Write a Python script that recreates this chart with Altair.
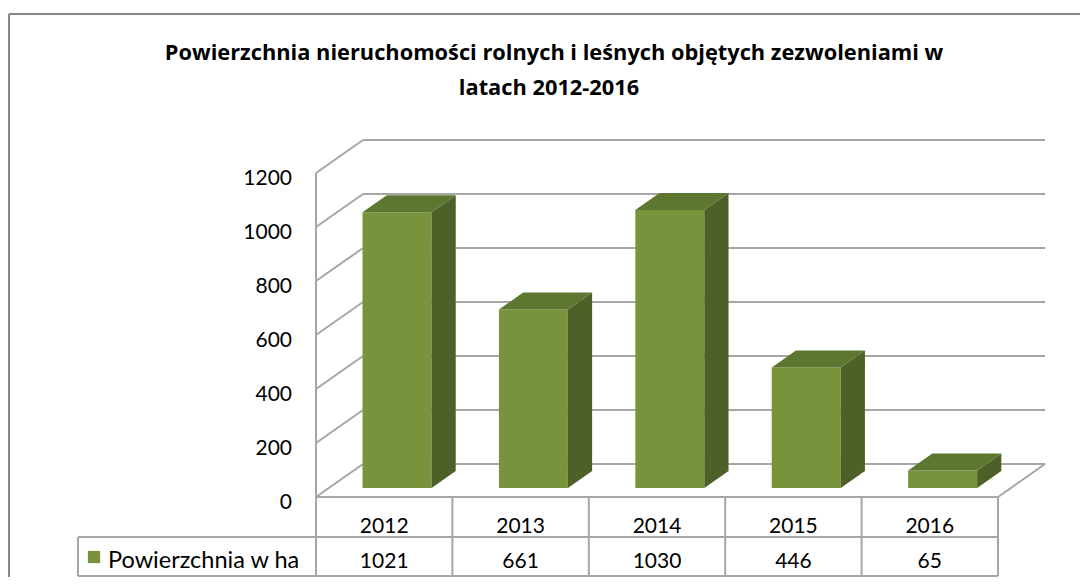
import altair as alt
import pandas as pd

# ---- data ----
years = ["2012", "2013", "2014", "2015", "2016"]
values = [1021, 661, 1030, 446, 65]
y_ticks = [0, 200, 400, 600, 800, 1000, 1200]
series_name = "Powierzchnia w ha"
title_lines = ["Powierzchnia nieruchomości rolnych i leśnych objętych zezwoleniami w",
               "latach 2012-2016"]

# ---- layout (pixel geometry of the 3D frame) ----
W, H = 1072, 569
X0, SLOT = 316.0, 136.4       # front-left corner px, px per category
Y0, K = 497.0, 0.27           # front floor px, px per unit
def sx(px): return (px - X0) / SLOT
def vy(py): return (Y0 - py) / K

DX, DY = 47 / SLOT, 33 / K            # wall depth offset
F0, FD = 9 / 33, 17 / 33              # bar front depth & bar depth fractions
BW = 69 / SLOT                        # bar width (in slots)
n = len(years)

xs = alt.Scale(domain=[sx(8), sx(8 + W)], nice=False, zero=False)
ys = alt.Scale(domain=[vy(8 + H), vy(8)], nice=False, zero=False)
FONT = "Lato"
GRID = "#A6A6A6"

def X(f): return alt.X(f, type="quantitative", scale=xs, axis=None)
def Y(f): return alt.Y(f, type="quantitative", scale=ys, axis=None, stack=None)

# gridlines / walls
seg = []
for t in y_ticks:
    seg.append(dict(x=0, y=t, x2=DX, y2=t + DY))
    seg.append(dict(x=DX, y=t + DY, x2=n + DX, y2=t + DY))
seg.append(dict(x=0, y=0, x2=0, y2=max(y_ticks)))
seg.append(dict(x=0, y=0, x2=n, y2=0))
seg.append(dict(x=n, y=0, x2=n + DX, y2=DY))
grid = alt.Chart(pd.DataFrame(seg)).mark_rule(color=GRID, strokeWidth=2).encode(
    x=X("x"), y=Y("y"), x2="x2", y2="y2")

# bars
fronts, sides, tops = [], [], []
for i, (yr, v) in enumerate(zip(years, values)):
    cx = i + 0.5 + F0 * DX
    xl, xr = cx - BW / 2, cx + BW / 2
    b = F0 * DY
    t = v + b
    dx, dy = FD * DX, FD * DY
    fronts.append(dict(year=yr, x=xl, x2=xr, y=b, y2=t))
    sides += [dict(year=yr, x=xr, y=b, y2=t), dict(year=yr, x=xr + dx, y=b + dy, y2=t + dy)]
    tops += [dict(year=yr, x=xl, y=t, y2=t), dict(year=yr, x=xl + dx, y=t, y2=t + dy),
             dict(year=yr, x=xr, y=t, y2=t + dy), dict(year=yr, x=xr + dx, y=t + dy, y2=t + dy)]

front = alt.Chart(pd.DataFrame(fronts)).mark_rect(color="#78933C").encode(
    x=X("x"), x2="x2", y=Y("y"), y2="y2")
side = alt.Chart(pd.DataFrame(sides)).mark_area(color="#4E6027", orient="vertical").encode(
    x=X("x"), y=Y("y"), y2="y2", detail="year:N")
top = alt.Chart(pd.DataFrame(tops)).mark_area(color="#5D7630", orient="vertical").encode(
    x=X("x"), y=Y("y"), y2="y2", detail="year:N")

# y labels
ylab = alt.Chart(pd.DataFrame({"t": y_ticks, "lab": [str(t) for t in y_ticks]})).mark_text(
    align="right", baseline="alphabetic", dy=12, font=FONT, fontSize=21, color="#000000"
).encode(x=alt.value(292 - 8), y=Y("t"), text="lab:N")

# data table
ROW1, BOT = vy(537), vy(576)
tl = []
for i in range(n + 1):
    tl.append(dict(x=i, y=0, x2=i, y2=BOT))
tl.append(dict(x=sx(78), y=ROW1, x2=n, y2=ROW1))
tl.append(dict(x=sx(78), y=BOT, x2=n, y2=BOT))
tl.append(dict(x=sx(78), y=ROW1, x2=sx(78), y2=BOT))
table = alt.Chart(pd.DataFrame(tl)).mark_rule(color=GRID, strokeWidth=2).encode(
    x=X("x"), y=Y("y"), x2="x2", y2="y2")

tdf = pd.DataFrame({"xc": [i + 0.5 for i in range(n)], "year": years,
                    "val": [str(v) for v in values]})
yr_txt = alt.Chart(tdf).mark_text(baseline="alphabetic", font=FONT, fontSize=21, color="#000000").encode(
    x=X("xc"), y=alt.value(533 - 8), text="year:N")
val_txt = alt.Chart(tdf).mark_text(baseline="alphabetic", font=FONT, fontSize=21, color="#000000").encode(
    x=X("xc"), y=alt.value(568 - 8), text="val:N")

leg_sq = alt.Chart(pd.DataFrame({"s": [series_name]})).mark_square(
    color="#78933C", size=150, opacity=1).encode(x=alt.value(94 - 8), y=alt.value(557 - 8))
leg_txt = alt.Chart(pd.DataFrame({"s": [series_name]})).mark_text(
    align="left", baseline="alphabetic", font=FONT, fontSize=23.5, color="#000000").encode(
    x=alt.value(108 - 8), y=alt.value(568 - 8), text="s:N")

# title (two lines)
title1 = alt.Chart(pd.DataFrame({"line": [title_lines[0]]})).mark_text(
    baseline="alphabetic", font="Open Sans", fontSize=21.8, fontWeight="bold", color="#000000").encode(
    x=alt.value(554 - 8), y=alt.value(60 - 8), text="line:N")
title2 = alt.Chart(pd.DataFrame({"line": [title_lines[1]]})).mark_text(
    baseline="alphabetic", font="Open Sans", fontSize=21.8, fontWeight="bold", color="#000000").encode(
    x=alt.value(549 - 8), y=alt.value(95 - 8), text="line:N")

# outer frame (top & left)
frame = alt.Chart(pd.DataFrame({"a": [0]})).mark_rule(color="#878787", strokeWidth=2).encode(
    x=alt.value(1), x2=alt.value(W), y=alt.value(14 - 8), y2=alt.value(14 - 8))
frame2 = alt.Chart(pd.DataFrame({"a": [0]})).mark_rule(color="#878787", strokeWidth=2).encode(
    x=alt.value(1), x2=alt.value(1), y=alt.value(14 - 8), y2=alt.value(H))

chart = alt.layer(frame, frame2, grid, front, side, top, ylab, table, yr_txt, val_txt,
                  leg_sq, leg_txt, title1, title2).properties(
    width=W, height=H, padding=0, autosize=alt.AutoSizeParams(type="none")
).configure_view(stroke=None)

chart.save("out.html", embed_options={"renderer": "svg", "actions": False})
